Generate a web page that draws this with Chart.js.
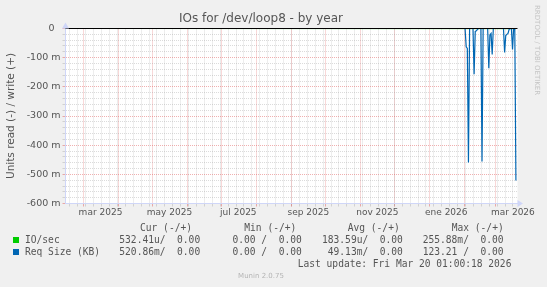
<!DOCTYPE html>
<html><head><meta charset="utf-8">
<script src="https://cdn.jsdelivr.net/npm/chart.js@4/dist/chart.umd.min.js"></script>
<style>html,body{margin:0;padding:0;background:#f0f0f0;overflow:hidden}canvas{display:block}</style>
</head><body>
<canvas id="c" width="547" height="287"></canvas>
<script>
// ---- data (x = days since start of the 400-day window, Feb 13 2025 01:00) ----
const TITLE = 'IOs for /dev/loop8 - by year';
const Y_TITLE = 'Units read (-) / write (+)';
const reqDays   = [0, 352.6, 353.6, 354.6, 355.6, 356.6, 357.6, 360.6, 361.6, 362.6, 363.6, 364.6, 365.6, 367.6, 368.6, 369.6, 373.6, 374.6, 375.6, 376.6, 377.6, 378.6, 387.6, 388.6, 389.6, 390.6, 391.6, 392.6, 393.6, 394.6, 395.6, 396.6, 397.6, 398.6];
const reqValues = [0, 0, 0, -0.063, -0.068, -0.459, 0, 0, -0.157, -0.010, -0.008, -0.003, 0, 0, -0.456, 0, 0, -0.136, -0.022, -0.017, -0.089, 0, 0, -0.082, -0.024, -0.020, -0.017, -0.003, 0, 0, -0.072, 0, 0, -0.521];
const ioDays    = [0, 398.6];
const ioValues  = [0, -0.0005];
const monthStartDays = [15.96, 46.96, 76.96, 107.96, 137.96, 168.96, 199.96, 229.96, 260.96, 290.96, 321.96, 352.96, 380.96];
const monthLabels    = ['mar 2025', '', 'may 2025', '', 'jul 2025', '', 'sep 2025', '', 'nov 2025', '', 'ene 2026', '', 'mar 2026'];
const firstMondayDay = 3.96;
const legendHeaders = ['Cur (-/+)', 'Min (-/+)', 'Avg (-/+)', 'Max (-/+)'];
const seriesNames   = ['IO/sec', 'Req Size (KB)'];
const seriesColors  = ['#00cc00', '#0066b3'];
const curCol = ['532.41u/  0.00', '520.86m/  0.00'];
const minCol = ['  0.00 /  0.00', '  0.00 /  0.00'];
const avgCol = ['183.59u/  0.00', ' 49.13m/  0.00'];
const maxCol = ['255.88m/  0.00', '123.21 /  0.00'];
const LAST_UPDATE = 'Last update: Fri Mar 20 01:00:18 2026';
const FOOTER = 'Munin 2.0.75';
const WATERMARK = 'RRDTOOL / TOBI OETIKER';

const FONT = 'DejaVu Sans';
const MONO = 'DejaVu Sans Mono';
const TXT = '#555555';
const GRID_MINOR = 'rgba(143,143,143,0.32)';
const GRID_MAJOR = 'rgba(222,79,79,0.45)';
const AXIS = '#cfd6f8';
const NONE = 'rgba(0,0,0,0)';

function gridCol(c) {
  const k = c.tick && c.tick.kind;
  return k === 'major' ? GRID_MAJOR : (k === 'minor' ? GRID_MINOR : NONE);
}

const decor = {
  id: 'decor',
  beforeDraw(chart) {
    const {ctx, chartArea: a} = chart;
    ctx.save();
    ctx.fillStyle = '#f0f0f0';
    ctx.fillRect(0, 0, chart.width, chart.height);
    ctx.fillStyle = '#ffffff';
    ctx.fillRect(a.left, a.top, a.right - a.left, a.bottom - a.top);
    ctx.restore();
  },
  afterDraw(chart) {
    const {ctx, chartArea: a} = chart;
    ctx.save();
    // arrows
    ctx.fillStyle = AXIS;
    ctx.beginPath();
    ctx.moveTo(a.right, a.bottom - 3.5); ctx.lineTo(a.right + 5.5, a.bottom); ctx.lineTo(a.right, a.bottom + 3.5); ctx.closePath(); ctx.fill();
    ctx.beginPath();
    ctx.moveTo(a.left - 3.5, a.top); ctx.lineTo(a.left, a.top - 6); ctx.lineTo(a.left + 3.5, a.top); ctx.closePath(); ctx.fill();
    // title
    ctx.fillStyle = TXT;
    ctx.textBaseline = 'alphabetic';
    ctx.textAlign = 'center';
    ctx.font = '12px "' + FONT + '"';
    ctx.fillText(TITLE, 261, 22);
    // watermark
    ctx.save();
    ctx.translate(535, 5);
    ctx.rotate(Math.PI / 2);
    ctx.textAlign = 'left';
    ctx.fillStyle = '#c4c4c4';
    ctx.font = '7px "' + FONT + '"';
    ctx.fillText(WATERMARK, 0, 0);
    ctx.restore();
    // legend
    ctx.textAlign = 'left';
    ctx.fillStyle = TXT;
    ctx.font = '9.6px "' + MONO + '"';
    const hx = [140, 244.3, 347.7, 451.7];
    legendHeaders.forEach((h, i) => ctx.fillText(h, hx[i], 230.5));
    const cx = [119.3, 220.9, 322, 422.7];
    const cols = [curCol, minCol, avgCol, maxCol];
    seriesNames.forEach((n, r) => {
      const y = 243 + r * 12;
      ctx.fillStyle = seriesColors[r];
      ctx.fillRect(13, y - 6, 6, 6);
      ctx.fillStyle = TXT;
      ctx.fillText(n, 25, y);
      cols.forEach((col, j) => ctx.fillText(col[r], cx[j], y));
    });
    ctx.fillText(LAST_UPDATE, 297.7, 266.7);
    ctx.textAlign = 'center';
    ctx.fillStyle = '#b4b4b4';
    ctx.font = '7px "' + FONT + '"';
    ctx.fillText(FOOTER, 261, 278);
    ctx.restore();
  }
};

new Chart(document.getElementById('c'), {
  type: 'line',
  data: {
    datasets: [
      {label: 'zero', data: [{x: 0, y: 0}, {x: 400, y: 0}], borderColor: '#000000', borderWidth: 1, pointRadius: 0, order: 0, clip: 3},
      {label: seriesNames[1], data: reqDays.map((d, i) => ({x: d, y: reqValues[i]})), borderColor: seriesColors[1], borderWidth: 1.2, pointRadius: 0, tension: 0, order: 1, clip: 3},
      {label: seriesNames[0], data: ioDays.map((d, i) => ({x: d, y: ioValues[i]})), borderColor: seriesColors[0], borderWidth: 1, pointRadius: 0, tension: 0, order: 2, clip: 3}
    ]
  },
  options: {
    responsive: false, animation: false, devicePixelRatio: 1,
    layout: {padding: {left: 0, right: 29.5, top: 28.5, bottom: 63.5}},
    plugins: {legend: {display: false}, title: {display: false}, tooltip: {enabled: false}},
    scales: {
      x: {
        type: 'linear', min: 0, max: 400,
        afterFit(s) { s.height = 20; },
        afterBuildTicks(s) {
          const t = [];
          for (let d = firstMondayDay; d <= 400; d += 7) t.push({value: d, kind: 'minor'});
          monthStartDays.forEach(d => t.push({value: d, kind: 'major'}));
          monthStartDays.forEach((d, i) => { if (monthLabels[i]) t.push({value: d + 15, kind: 'label', lab: monthLabels[i]}); });
          t.sort((p, q) => p.value - q.value);
          s.ticks = t;
        },
        ticks: {autoSkip: false, maxRotation: 0, minRotation: 0, padding: 1, color: TXT,
          font: {family: FONT, size: 9},
          callback(v, i, t) { return t[i].lab || ''; }},
        grid: {color: gridCol, tickColor: gridCol, tickLength: 3, lineWidth: 1},
        border: {color: AXIS, width: 1, dash: [1, 1]}
      },
      y: {
        type: 'linear', min: -0.6, max: 0,
        afterFit(s) { s.width = 65.5; },
        afterBuildTicks(s) {
          const t = [];
          for (let k = -30; k <= 0; k++) t.push({value: k / 50, kind: (k % 5 === 0) ? 'major' : 'minor'});
          s.ticks = t;
        },
        ticks: {autoSkip: false, padding: 2, color: TXT, font: {family: FONT, size: 9.5},
          callback(v, i, t) {
            if (t[i].kind !== 'major') return '';
            const m = Math.round(t[i].value * 1000);
            return m === 0 ? '0  ' : m + ' m';
          }},
        title: {display: true, text: Y_TITLE, color: TXT, font: {family: FONT, size: 10.5}, padding: {top: 4.7, bottom: 0}},
        grid: {color: gridCol, tickColor: gridCol, tickLength: 3, lineWidth: 1},
        border: {color: AXIS, width: 1, dash: [1, 1]}
      }
    }
  },
  plugins: [decor]
});
</script>
</body></html>
